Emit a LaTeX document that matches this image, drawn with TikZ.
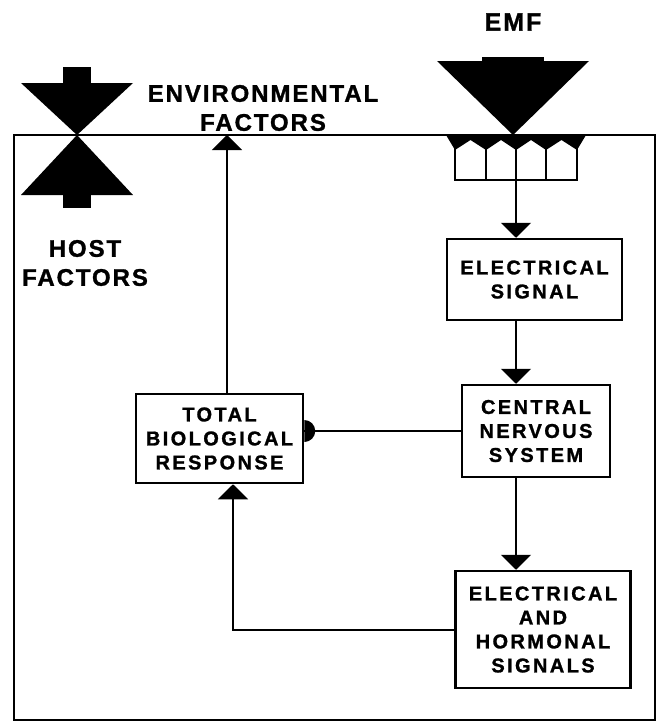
\documentclass[tikz,border=0pt]{standalone}
\usepackage{fontspec}
\newfontfamily\boxfont{Liberation Sans}[LetterSpace=12, BoldFeatures={FakeBold=1.2}]
\newfontfamily\lblfont{Liberation Sans}[LetterSpace=8, BoldFeatures={FakeBold=1.2}]
\usetikzlibrary{arrows.meta}

\begin{document}
\begin{tikzpicture}[x=1pt, y=-1pt,
    box/.style={rectangle, draw, line width=2.5pt, align=center, inner sep=0pt, font=\boxfont\bfseries\fontsize{20}{24}\selectfont},
    lbl/.style={align=center, inner sep=0pt, font=\lblfont\bfseries\fontsize{24}{29}\selectfont},
    arr/.style={-{Triangle[width=30pt,length=15pt]}, line width=2pt},
    line/.style={line width=2pt}]
    \useasboundingbox (0,0) rectangle (657,723);

    \node[box, minimum width=175pt, minimum height=81pt] (sig) at (534.5,279.5) {ELECTRICAL\\SIGNAL};
    \node[box, minimum width=148pt, minimum height=92pt] (cns) at (536,431) {CENTRAL\\NERVOUS\\SYSTEM};
    \node[box, minimum width=175pt, minimum height=117pt] (ehs) at (543,629.5) {ELECTRICAL\\AND\\HORMONAL\\SIGNALS};
    \node[box, minimum width=167pt, minimum height=89pt] (tbr) at (219.5,438.5) {TOTAL\\BIOLOGICAL\\RESPONSE};

    \node[lbl] (env) at (263,108) {ENVIRONMENTAL\\FACTORS};
    \node[lbl] (host) at (85,263) {HOST\\FACTORS};
    \node[lbl, font=\lblfont\bfseries\fontsize{25}{30}\selectfont] (emf) at (513,22) {EMF};

    \draw[line width=2.5pt] (14,135) rectangle (655,720);

    % host factors
    \fill (63,67) rectangle (91,84);
    \fill (21,83) -- (133,83) -- (77,135) -- cycle;
    \fill (21,195) -- (133,195) -- (77,135) -- cycle;
    \fill (63,194) rectangle (91,208);

    % emf and receptors
    \fill (482,57) rectangle (544,63);
    \fill (437,61) -- (589,61) -- (513,135) -- cycle;
    \fill (446,135) -- (586,135) -- (577,150) -- (561.5,140) -- (546,150) -- (531,140) -- (516,150) -- (501,140) -- (486,150) -- (470.5,140) -- (455,150) -- cycle;
    \draw[line width=2.5pt] (455,148) -- (455,180) -- (577,180) -- (577,148);
    \foreach \x in {486,516,546} \draw[line width=2.5pt] (\x,148) -- (\x,180);
    \coordinate (comb) at (516,180);
    \coordinate (envin) at (227,135);

    \draw[arr] (comb) -- (comb |- sig.north);
    \draw[arr] (comb |- sig.south) -- (comb |- cns.north);
    \draw[arr] (comb |- cns.south) -- (comb |- ehs.north);
    \draw[line] (cns.west) -- (cns.west -| tbr.east);
    \fill (cns.west -| tbr.east) ++(0,11) arc[start angle=-90, end angle=90, radius=11pt] -- cycle;
    \draw[arr] (tbr.north -| envin) -- (envin);
    \draw[arr] (ehs.west) -| ([xshift=13.5pt]tbr.south);
\end{tikzpicture}
\end{document}
